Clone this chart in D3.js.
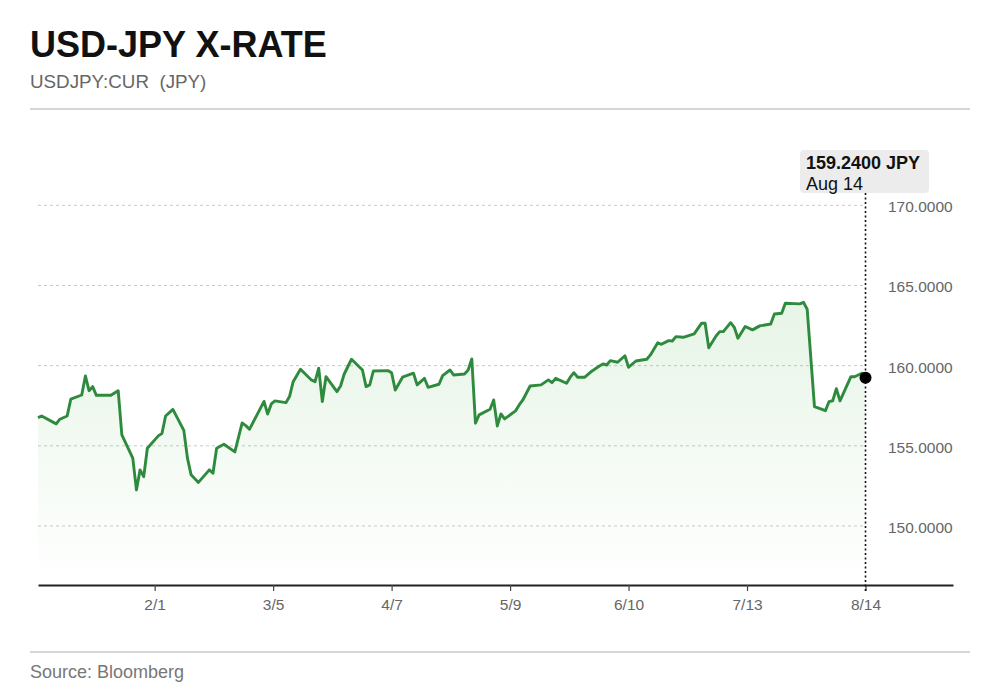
<!doctype html>
<html lang="en">
<head>
    <meta charset="UTF-8">
    <title>USD-JPY X-RATE</title>
    <script type="text/javascript" src="https://cdn.jsdelivr.net/npm/d3@7"></script>
    <style type="text/css">
        body {
            margin: 0;
            background: #fff;
        }

        svg text {
            font-family: "Liberation Sans", Arial, sans-serif;
        }
    </style>
</head>
<body>

<script type="text/javascript">
    // daily closes
    var dates = [
        "2023-12-31", "2024-01-01", "2024-01-05", "2024-01-06", "2024-01-08", "2024-01-09", "2024-01-12",
        "2024-01-13", "2024-01-14", "2024-01-15", "2024-01-16", "2024-01-20", "2024-01-22", "2024-01-23",
        "2024-01-26", "2024-01-27", "2024-01-28", "2024-01-29", "2024-01-30", "2024-02-02", "2024-02-03",
        "2024-02-04", "2024-02-06", "2024-02-09", "2024-02-10", "2024-02-11", "2024-02-13", "2024-02-16",
        "2024-02-17", "2024-02-18", "2024-02-20", "2024-02-23", "2024-02-25", "2024-02-26", "2024-02-27",
        "2024-03-02", "2024-03-03", "2024-03-04", "2024-03-05", "2024-03-08", "2024-03-09", "2024-03-10",
        "2024-03-12", "2024-03-15", "2024-03-16", "2024-03-17", "2024-03-18", "2024-03-19", "2024-03-22",
        "2024-03-23", "2024-03-24", "2024-03-26", "2024-03-29", "2024-03-30", "2024-03-31", "2024-04-01",
        "2024-04-05", "2024-04-06", "2024-04-07", "2024-04-09", "2024-04-12", "2024-04-13", "2024-04-15",
        "2024-04-16", "2024-04-19", "2024-04-20", "2024-04-22", "2024-04-23", "2024-04-26", "2024-04-27",
        "2024-04-28", "2024-04-29", "2024-04-30", "2024-05-03", "2024-05-04", "2024-05-05", "2024-05-06",
        "2024-05-07", "2024-05-10", "2024-05-11", "2024-05-12", "2024-05-14", "2024-05-17", "2024-05-19",
        "2024-05-20", "2024-05-21", "2024-05-24", "2024-05-25", "2024-05-26", "2024-05-27", "2024-05-29",
        "2024-05-31", "2024-06-02", "2024-06-03", "2024-06-04", "2024-06-05", "2024-06-07", "2024-06-09",
        "2024-06-10", "2024-06-12", "2024-06-15", "2024-06-16", "2024-06-18", "2024-06-19", "2024-06-21",
        "2024-06-22", "2024-06-23", "2024-06-25", "2024-06-28", "2024-06-30", "2024-07-01", "2024-07-02",
        "2024-07-04", "2024-07-05", "2024-07-06", "2024-07-08", "2024-07-09", "2024-07-10", "2024-07-12",
        "2024-07-14", "2024-07-16", "2024-07-19", "2024-07-20", "2024-07-22", "2024-07-23", "2024-07-27",
        "2024-07-28", "2024-07-29", "2024-07-31", "2024-08-03", "2024-08-04", "2024-08-05", "2024-08-06",
        "2024-08-07", "2024-08-10", "2024-08-11", "2024-08-13", "2024-08-14"
    ];
    var rates = [
        156.76, 156.86, 156.37, 156.66, 156.86, 157.91, 158.17,
        159.36, 158.44, 158.69, 158.15, 158.15, 158.44, 155.68,
        154.23, 152.25, 153.50, 153.08, 154.85, 155.62, 155.77,
        156.86, 157.27, 155.96, 154.23, 153.19, 152.72, 153.50,
        153.29, 154.85, 155.10, 154.62, 156.43, 156.26, 156.03,
        157.77, 156.98, 157.61, 157.80, 157.69, 158.07, 159.00,
        159.78, 159.11, 159.00, 159.84, 157.76, 159.31, 158.38,
        158.73, 159.48, 160.40, 159.73, 158.69, 158.80, 159.67,
        159.69, 159.56, 158.48, 159.28, 159.53, 158.80, 159.21,
        158.65, 158.84, 159.38, 159.73, 159.42, 159.48, 159.73,
        160.42, 156.41, 156.93, 157.28, 157.86, 156.24, 156.99,
        156.68, 157.18, 157.55, 157.86, 158.73, 158.80, 159.11,
        158.94, 159.21, 158.90, 159.28, 159.56, 159.28, 159.28,
        159.67, 159.98, 160.11, 160.04, 160.31, 160.21, 160.62,
        159.90, 160.29, 160.40, 160.67, 161.43, 161.33, 161.56,
        161.54, 161.81, 161.77, 161.98, 162.64, 162.64, 161.12,
        161.85, 162.12, 162.12, 162.68, 162.39, 161.71, 162.44,
        162.23, 162.48, 162.60, 163.22, 163.27, 163.89, 163.85,
        163.95, 163.52, 157.44, 157.19, 157.76, 157.81, 158.56,
        157.80, 159.31, 159.31, 159.53, 159.24
    ];
    var yTicks = [150, 155, 160, 165, 170];
    var xTickLabels = ["2/1", "3/5", "4/7", "5/9", "6/10", "7/13", "8/14"];

    var w = 1000;
    var h = 692;
    var parse = d3.timeParse("%Y-%m-%d");

    var data = dates.map(function (d, i) {
        return {date: parse(d), value: rates[i]};
    });
    var last = data[data.length - 1];

    var x_scale = d3.scaleTime()
        .domain([parse("2023-12-31"), parse("2024-09-07")])
        .range([38, 953]);
    var y_scale = d3.scaleLinear()
        .domain([150, 170])
        .range([526, 205.3]);
    var axisY = 585;

    var svg = d3.select("body").append("svg").attr("width", w).attr("height", h);

    // header
    svg.append("text").text("USD-JPY X-RATE")
        .attr("x", 30).attr("y", 57)
        .attr("font-size", "36px").attr("font-weight", "bold").attr("fill", "#111");
    svg.append("text").text("USDJPY:CUR  (JPY)")
        .attr("x", 30).attr("y", 88)
        .style("white-space", "pre")
        .attr("font-size", "18.8px").attr("fill", "#666");
    svg.append("line")
        .attr("x1", 30).attr("x2", 970).attr("y1", 109).attr("y2", 109)
        .attr("stroke", "#d6d6d6").attr("stroke-width", 2);

    // gradient under the line
    var grad = svg.append("defs").append("linearGradient")
        .attr("id", "fade").attr("x1", 0).attr("x2", 0).attr("y1", 0).attr("y2", 1);
    grad.append("stop").attr("offset", "0%").attr("stop-color", "#5cb85c").attr("stop-opacity", 0.15);
    grad.append("stop").attr("offset", "100%").attr("stop-color", "#5cb85c").attr("stop-opacity", 0);

    // grid + right labels
    svg.selectAll("line.grid")
        .data(yTicks)
        .enter()
        .append("line")
        .attr("class", "grid")
        .attr("x1", 38)
        .attr("x2", x_scale(last.date))
        .attr("y1", function (d) { return y_scale(d); })
        .attr("y2", function (d) { return y_scale(d); })
        .attr("stroke", "#c8c8c8")
        .attr("stroke-width", 1)
        .attr("stroke-dasharray", "3,3");
    svg.selectAll("text.ylab")
        .data(yTicks)
        .enter()
        .append("text")
        .attr("class", "ylab")
        .text(function (d) { return d3.format(".4f")(d); })
        .attr("x", 888)
        .attr("y", function (d) { return y_scale(d) + 7; })
        .attr("font-size", "15.5px")
        .attr("fill", "#666");

    var area = d3.area()
        .x(function (d) { return x_scale(d.date); })
        .y0(axisY)
        .y1(function (d) { return y_scale(d.value); });
    var line = d3.line()
        .x(function (d) { return x_scale(d.date); })
        .y(function (d) { return y_scale(d.value); });

    svg.append("path").datum(data)
        .attr("d", area)
        .attr("fill", "url(#fade)");
    svg.append("path").datum(data)
        .attr("d", line)
        .attr("fill", "none")
        .attr("stroke", "#2e8b3d")
        .attr("stroke-width", 2.9)
        .attr("stroke-linejoin", "round");

    // x axis, ticks spread evenly between first and last label
    var t0 = parse("2024-02-01"), t1 = last.date;
    var tickDates = xTickLabels.map(function (d, i) {
        return d3.interpolateDate(t0, t1)(i / (xTickLabels.length - 1));
    });
    var xAxis = d3.axisBottom(x_scale)
        .tickValues(tickDates)
        .tickFormat(function (d, i) { return xTickLabels[i]; })
        .tickSize(6)
        .tickSizeOuter(0)
        .tickPadding(8);
    var gx = svg.append("g").attr("transform", "translate(0," + axisY + ")").call(xAxis);
    gx.select(".domain").attr("stroke", "#222").attr("stroke-width", 2);
    gx.selectAll(".tick line").attr("stroke", "#444").attr("stroke-width", 1.2);
    gx.selectAll(".tick text")
        .attr("font-family", "Liberation Sans, Arial, sans-serif")
        .attr("font-size", "15.5px")
        .attr("fill", "#666");

    // hover marker on the last point
    var lx = x_scale(last.date);
    svg.append("line")
        .attr("x1", lx).attr("x2", lx).attr("y1", 193).attr("y2", axisY + 6)
        .attr("stroke", "#111").attr("stroke-width", 1.6).attr("stroke-dasharray", "2,2.5");
    svg.append("circle")
        .attr("cx", lx).attr("cy", y_scale(last.value)).attr("r", 6)
        .attr("fill", "#000");

    var tip = svg.append("g").attr("transform", "translate(800,150)");
    tip.append("rect")
        .attr("width", 129).attr("height", 43).attr("rx", 4)
        .attr("fill", "#ececec");
    tip.append("text").text(d3.format(".4f")(last.value) + " JPY")
        .attr("x", 6).attr("y", 18.5)
        .attr("font-size", "18px").attr("font-weight", "bold").attr("fill", "#111");
    tip.append("text").text(d3.timeFormat("%b %-d")(last.date))
        .attr("x", 6).attr("y", 39.5)
        .attr("font-size", "18px").attr("fill", "#111");

    // footer
    svg.append("line")
        .attr("x1", 30).attr("x2", 970).attr("y1", 652).attr("y2", 652)
        .attr("stroke", "#d6d6d6").attr("stroke-width", 2);
    svg.append("text").text("Source: Bloomberg")
        .attr("x", 30).attr("y", 678)
        .attr("font-size", "18px").attr("fill", "#777");
</script>

</body>
</html>
